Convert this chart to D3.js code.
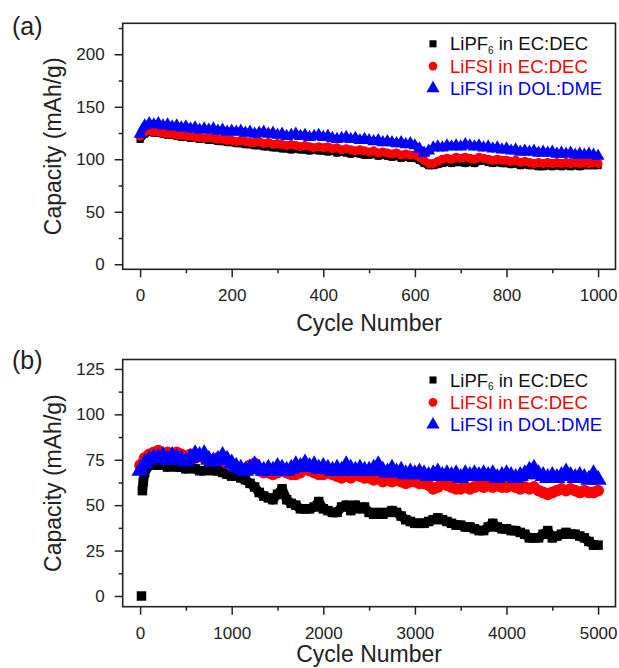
<!DOCTYPE html>
<html>
<head>
<meta charset="utf-8">
<script src="https://cdn.jsdelivr.net/npm/d3@7"></script>
<style>
  body { margin: 0; background: #fff; }
  svg { display: block; font-family: 'Liberation Sans', Arial, sans-serif; }
</style>
</head>
<body>
<div id="chart"></div>
<script>
// Datos
const seriesNames = ['LiPF6 in EC:DEC', 'LiFSI in EC:DEC', 'LiFSI in DOL:DME'];
const seriesColors = ['#000000', '#ff0000', '#0000ff'];
const seriesSymbols = [d3.symbolSquare, d3.symbolCircle, d3.symbolTriangle];

// (a) cada 10 ciclos, 0..1000
const cyclesA = d3.range(0, 1001, 10);
const lipf6A = [
  119, 124, 126, 125, 125, 124, 123, 123, 122, 121,
  121, 120, 120, 119, 119, 118, 118, 117, 117, 116,
  116, 115, 115, 114, 114, 113, 113, 112, 112, 111,
  111, 110, 110, 109, 110, 109, 109, 108, 109, 108,
  108, 107, 108, 106, 107, 106, 105, 106, 105, 104,
  104, 105, 103, 104, 103, 102, 103, 101, 102, 101,
  101, 99, 96, 94, 94, 95, 96, 97, 96, 97,
  97, 96, 97, 96, 98, 99, 97, 96, 97, 96,
  96, 95, 96, 94, 95, 94, 94, 93, 93, 94,
  93, 94, 93, 94, 93, 94, 93, 94, 94, 94,
  94
];
const lifsiEcA = [
  122, 126, 127, 126, 126, 125, 124, 124, 123, 123,
  122, 122, 121, 121, 120, 121, 120, 119, 119, 118,
  118, 117, 118, 117, 116, 116, 117, 115, 116, 114,
  115, 114, 113, 114, 113, 112, 113, 112, 111, 112,
  111, 112, 110, 111, 109, 110, 109, 108, 109, 108,
  107, 108, 106, 107, 106, 105, 106, 104, 105, 104,
  104, 102, 99, 96, 96, 98, 100, 101, 100, 102,
  101, 102, 101, 100, 102, 101, 100, 99, 100, 99,
  99, 98, 99, 97, 98, 97, 96, 97, 96, 97,
  96, 97, 96, 97, 96, 97, 96, 97, 96, 97,
  96
];
const lifsiDolA = [
  124, 132, 134, 133, 134, 132, 133, 131, 132, 130,
  131, 129, 130, 128, 129, 128, 129, 127, 128, 126,
  127, 126, 127, 125, 126, 124, 125, 126, 124, 125,
  123, 124, 122, 123, 124, 122, 123, 121, 122, 123,
  121, 122, 120, 119, 120, 121, 119, 120, 118, 119,
  118, 117, 118, 116, 117, 116, 115, 116, 114, 115,
  113, 110, 106, 108, 111, 112, 111, 113, 112, 113,
  112, 114, 113, 112, 113, 111, 112, 110, 111, 109,
  110, 108, 109, 107, 108, 107, 108, 106, 107, 106,
  107, 105, 106, 105, 106, 104, 105, 104, 105, 104,
  103
];

// (b) cada 50 ciclos, 0..5000
const cyclesB = d3.range(0, 5001, 50);
const earlyCyclesB = [15, 25, 35];
const earlyLipf6B = [0, 58, 63];
const lipf6B = [
  68, 72, 73, 72, 72, 71, 72, 71, 71, 70,
  71, 70, 69, 69, 70, 69, 69, 68, 67, 66,
  66, 65, 64, 62, 60, 57, 55, 54, 53, 56,
  59, 53, 51, 50, 48, 48, 48, 49, 52, 48,
  47, 46, 46, 49, 50, 47, 50, 48, 49, 46,
  45, 46, 45, 46, 47, 46, 44, 42, 41, 40,
  40, 40, 41, 42, 43, 42, 41, 40, 39, 39,
  38, 38, 37, 36, 36, 38, 40, 38, 37, 37,
  36, 36, 35, 34, 32, 32, 32, 34, 36, 32,
  33, 34, 35, 34, 34, 33, 32, 30, 28, 28
];
const lifsiEcB = [
  72, 76, 78, 79, 80, 78, 79, 78, 79, 78,
  76, 78, 76, 77, 76, 75, 75, 76, 75, 73,
  72, 71, 70, 70, 72, 73, 69, 68, 68, 67,
  68, 70, 68, 67, 67, 68, 70, 69, 68, 67,
  67, 68, 67, 66, 65, 66, 65, 67, 66, 65,
  65, 64, 65, 63, 64, 63, 64, 63, 62, 63,
  63, 62, 62, 61, 59, 60, 62, 61, 60, 59,
  59, 60, 59, 60, 61, 60, 61, 60, 61, 60,
  60, 61, 60, 59, 60, 59, 60, 58, 57, 56,
  57, 58, 59, 58, 59, 58, 57, 58, 57, 57,
  58
];
const lifsiDolB = [
  69, 73, 75, 76, 76, 77, 75, 77, 76, 75,
  74, 76, 78, 77, 78, 75, 74, 75, 77, 75,
  73, 71, 70, 69, 70, 72, 70, 69, 70, 69,
  71, 70, 69, 70, 72, 71, 73, 71, 72, 70,
  71, 70, 69, 70, 69, 72, 70, 69, 70, 69,
  69, 70, 72, 69, 68, 70, 68, 69, 67, 68,
  67, 68, 67, 66, 67, 68, 66, 67, 66, 67,
  65, 67, 66, 67, 66, 67, 66, 67, 65, 66,
  67, 66, 65, 66, 67, 69, 70, 67, 66, 65,
  66, 65, 66, 68, 66, 65, 66, 65, 64, 67,
  64
];

const xTicksA = [0, 200, 400, 600, 800, 1000];
const xMinorA = [100, 300, 500, 700, 900];
const yTicksA = [0, 50, 100, 150, 200];
const yMinorA = [25, 75, 125, 175, 225];
const xTicksB = [0, 1000, 2000, 3000, 4000, 5000];
const xMinorB = [500, 1500, 2500, 3500, 4500];
const yTicksB = [0, 25, 50, 75, 100, 125];
const yMinorB = [12.5, 37.5, 62.5, 87.5, 112.5];

const width = 619, height = 668;
const svg = d3.select('#chart').append('svg')
  .attr('width', width)
  .attr('height', height);

const panels = [
  {
    label: '(a)', labelY: 35, top: 23.3, bottom: 269.3, xTitleY: 331,
    xDomain: [-38, 1038], yDomain: [-4.8, 229.5],
    xTicks: xTicksA, xMinor: xMinorA, yTicks: yTicksA, yMinor: yMinorA,
    series: [
      cyclesA.map((c, i) => [c, lipf6A[i]]),
      cyclesA.map((c, i) => [c, lifsiEcA[i]]),
      cyclesA.map((c, i) => [c, lifsiDolA[i]])
    ],
    sizes: [52, 64, 72], band: 7.5
  },
  {
    label: '(b)', labelY: 369, top: 359.5, bottom: 606.7, xTitleY: 662,
    xDomain: [-190, 5190], yDomain: [-5.9, 130.2],
    xTicks: xTicksB, xMinor: xMinorB, yTicks: yTicksB, yMinor: yMinorB,
    series: [
      earlyCyclesB.map((c, i) => [c, earlyLipf6B[i]])
        .concat(cyclesB.slice(1).map((c, i) => [c, lipf6B[i]])),
      cyclesB.map((c, i) => [c, lifsiEcB[i]]),
      cyclesB.map((c, i) => [c, lifsiDolB[i]])
    ],
    sizes: [90, 110, 130], band: 9.5
  }
];

const left = 122.7, right = 615.5;
const axisColor = '#222';

panels.forEach(p => {
  const x = d3.scaleLinear().domain(p.xDomain).range([left, right]);
  const y = d3.scaleLinear().domain(p.yDomain).range([p.bottom, p.top]);
  const g = svg.append('g');

  // bandas densas: trazo grueso bajo los marcadores
  const line = d3.line().x(d => x(d[0])).y(d => y(d[1]));
  p.series.forEach((data, si) => {
    const bandData = data.filter(d => d[1] > 10);
    g.append('path')
      .attr('d', line(bandData))
      .attr('fill', 'none')
      .attr('stroke', seriesColors[si])
      .attr('stroke-width', p.band)
      .attr('stroke-linejoin', 'round');
    const sym = d3.symbol().type(seriesSymbols[si]).size(p.sizes[si]);
    g.append('g').selectAll('path')
      .data(data)
      .join('path')
      .attr('d', sym)
      .attr('transform', d => `translate(${x(d[0])},${y(d[1])})`)
      .attr('fill', seriesColors[si]);
  });

  // ejes
  g.append('g')
    .attr('transform', `translate(0,${p.bottom})`)
    .call(d3.axisBottom(x).tickValues(p.xTicks).tickFormat(d3.format('d'))
      .tickSize(8).tickSizeOuter(0).tickPadding(12));
  g.append('g')
    .attr('transform', `translate(0,${p.bottom})`)
    .call(d3.axisBottom(x).tickValues(p.xMinor).tickSize(4).tickSizeOuter(0).tickFormat(''));
  g.append('g')
    .attr('transform', `translate(${left},0)`)
    .call(d3.axisLeft(y).tickValues(p.yTicks).tickFormat(d3.format('d'))
      .tickSize(8).tickSizeOuter(0).tickPadding(10));
  g.append('g')
    .attr('transform', `translate(${left},0)`)
    .call(d3.axisLeft(y).tickValues(p.yMinor).tickSize(4).tickSizeOuter(0).tickFormat(''));

  g.selectAll('.domain').remove();
  g.selectAll('.tick line').attr('stroke', axisColor).attr('stroke-width', 1.5);
  g.selectAll('.tick text')
    .attr('fill', axisColor)
    .attr('font-size', '17px')
    .attr('font-family', "'Liberation Sans', Arial, sans-serif");

  // marco
  g.append('rect')
    .attr('x', left).attr('y', p.top)
    .attr('width', right - left).attr('height', p.bottom - p.top)
    .attr('fill', 'none')
    .attr('stroke', axisColor)
    .attr('stroke-width', 1.6);

  // títulos
  g.append('text')
    .attr('x', 12).attr('y', p.labelY)
    .attr('font-size', '25px')
    .attr('fill', axisColor)
    .text(p.label);

  g.append('text')
    .attr('transform', `translate(53,${(p.top + p.bottom) / 2}) rotate(-90)`)
    .attr('text-anchor', 'middle')
    .attr('dy', '0.35em')
    .attr('font-size', '23px')
    .attr('fill', axisColor)
    .text('Capacity (mAh/g)');

  g.append('text')
    .attr('x', (left + right) / 2).attr('y', p.xTitleY)
    .attr('text-anchor', 'middle')
    .attr('font-size', '23px')
    .attr('fill', axisColor)
    .text('Cycle Number');

  // leyenda
  const legendSizes = [50, 60, 75];
  seriesNames.forEach((name, si) => {
    const ly = p.top + 20.5 + si * 22.3;
    g.append('path')
      .attr('d', d3.symbol().type(seriesSymbols[si]).size(legendSizes[si]))
      .attr('transform', `translate(433,${ly})`)
      .attr('fill', seriesColors[si]);
    const t = g.append('text')
      .attr('x', 450).attr('y', ly + 6.5)
      .attr('font-size', '18.5px')
      .attr('fill', si === 0 ? '#111' : seriesColors[si]);
    if (name.startsWith('LiPF6')) {
      t.append('tspan').text('LiPF');
      t.append('tspan').attr('font-size', '10px').attr('dy', 3.5).text('6');
      t.append('tspan').attr('dy', -3.5).text(name.slice(5));
    } else {
      t.text(name);
    }
  });
});
</script>
</body>
</html>
